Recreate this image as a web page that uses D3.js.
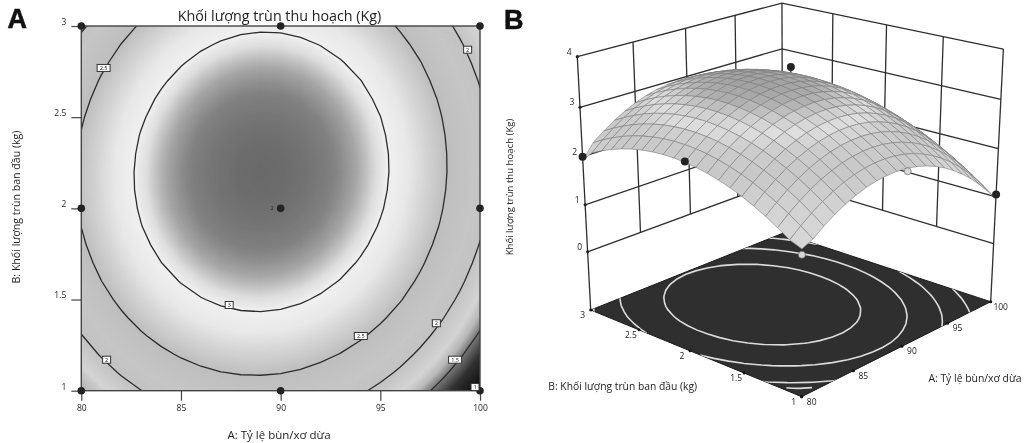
<!DOCTYPE html>
<html>
<head>
<meta charset="utf-8">
<script src="https://cdnjs.cloudflare.com/ajax/libs/d3/7.9.0/d3.min.js"></script>
<style>
  html, body { margin: 0; padding: 0; background: #fff; }
  svg { display: block; filter: blur(0.5px); }
  text { font-family: "Open Sans", sans-serif; fill: #222; }
</style>
</head>
<body>
<svg id="chart" width="1028" height="443"></svg>
<script>
// axis values
const ratioValues = [80, 81, 82, 83, 84, 85, 86, 87, 88, 89, 90, 91, 92, 93, 94, 95, 96, 97, 98, 99, 100];
const wormValues = [1, 1.1, 1.2, 1.3, 1.4, 1.5, 1.6, 1.7, 1.8, 1.9, 2, 2.1, 2.2, 2.3, 2.4, 2.5, 2.6, 2.7, 2.8, 2.9, 3];
const ratioTicks = [80, 85, 90, 95, 100];
const wormTicks = [1, 1.5, 2, 2.5, 3];
const harvestTicks = [0, 1, 2, 3, 4];
const contourLevels = [1.5, 2, 2.5, 3];

// harvest, one row per worm value, one column per ratio value
const harvest = [
  [1.600, 1.701, 1.859, 1.995, 2.109, 2.201, 2.272, 2.320, 2.346, 2.351, 2.334, 2.295, 2.234, 2.150, 2.046, 1.919, 1.771, 1.600, 1.407, 1.193, 0.957],
  [1.692, 1.872, 2.030, 2.168, 2.282, 2.375, 2.446, 2.494, 2.522, 2.527, 2.511, 2.472, 2.411, 2.329, 2.225, 2.099, 1.951, 1.780, 1.589, 1.375, 1.140],
  [1.846, 2.027, 2.186, 2.324, 2.439, 2.532, 2.604, 2.653, 2.681, 2.687, 2.671, 2.633, 2.573, 2.491, 2.388, 2.262, 2.115, 1.945, 1.754, 1.541, 1.306],
  [1.986, 2.167, 2.327, 2.466, 2.581, 2.675, 2.747, 2.797, 2.826, 2.832, 2.817, 2.779, 2.720, 2.639, 2.536, 2.411, 2.264, 2.095, 1.905, 1.692, 1.458],
  [2.110, 2.293, 2.453, 2.592, 2.708, 2.802, 2.876, 2.926, 2.955, 2.962, 2.947, 2.911, 2.852, 2.771, 2.669, 2.544, 2.399, 2.230, 2.040, 1.828, 1.594],
  [2.219, 2.402, 2.563, 2.702, 2.819, 2.914, 2.988, 3.039, 3.068, 3.076, 3.062, 3.026, 2.968, 2.887, 2.786, 2.662, 2.517, 2.349, 2.159, 1.948, 1.715],
  [2.313, 2.496, 2.657, 2.798, 2.915, 3.011, 3.085, 3.136, 3.167, 3.175, 3.162, 3.126, 3.068, 2.989, 2.888, 2.765, 2.620, 2.452, 2.264, 2.053, 1.821],
  [2.391, 2.575, 2.737, 2.878, 2.996, 3.092, 3.167, 3.219, 3.250, 3.259, 3.246, 3.211, 3.154, 3.075, 2.975, 2.852, 2.708, 2.541, 2.353, 2.143, 1.911],
  [2.455, 2.639, 2.802, 2.943, 3.062, 3.159, 3.234, 3.287, 3.318, 3.328, 3.316, 3.281, 3.225, 3.146, 3.047, 2.925, 2.781, 2.615, 2.427, 2.218, 1.987],
  [2.502, 2.687, 2.851, 2.993, 3.112, 3.209, 3.285, 3.339, 3.371, 3.381, 3.369, 3.335, 3.280, 3.202, 3.103, 2.981, 2.838, 2.673, 2.486, 2.277, 2.046],
  [2.535, 2.721, 2.884, 3.027, 3.147, 3.245, 3.322, 3.375, 3.408, 3.419, 3.408, 3.375, 3.319, 3.242, 3.144, 3.023, 2.881, 2.715, 2.529, 2.321, 2.091],
  [2.552, 2.739, 2.903, 3.047, 3.167, 3.265, 3.343, 3.397, 3.431, 3.442, 3.431, 3.399, 3.344, 3.268, 3.170, 3.049, 2.908, 2.743, 2.558, 2.350, 2.120],
  [2.555, 2.742, 2.907, 3.051, 3.172, 3.271, 3.349, 3.404, 3.438, 3.450, 3.440, 3.408, 3.354, 3.278, 3.181, 3.061, 2.920, 2.756, 2.571, 2.364, 2.135],
  [2.542, 2.729, 2.895, 3.039, 3.161, 3.261, 3.339, 3.395, 3.429, 3.442, 3.433, 3.401, 3.348, 3.272, 3.176, 3.057, 2.916, 2.753, 2.568, 2.362, 2.134],
  [2.513, 2.701, 2.868, 3.013, 3.135, 3.235, 3.314, 3.371, 3.406, 3.419, 3.410, 3.379, 3.327, 3.252, 3.156, 3.037, 2.897, 2.735, 2.551, 2.345, 2.117],
  [2.470, 2.659, 2.825, 2.971, 3.094, 3.195, 3.275, 3.331, 3.367, 3.381, 3.373, 3.343, 3.290, 3.216, 3.121, 3.003, 2.864, 2.701, 2.518, 2.313, 2.086],
  [2.411, 2.601, 2.768, 2.915, 3.038, 3.139, 3.220, 3.277, 3.314, 3.328, 3.320, 3.291, 3.239, 3.166, 3.071, 2.953, 2.815, 2.653, 2.471, 2.266, 2.039],
  [2.337, 2.527, 2.695, 2.842, 2.966, 3.068, 3.149, 3.207, 3.244, 3.259, 3.252, 3.223, 3.172, 3.099, 3.005, 2.888, 2.750, 2.589, 2.407, 2.203, 1.977],
  [2.247, 2.438, 2.607, 2.754, 2.879, 2.981, 3.063, 3.122, 3.159, 3.175, 3.168, 3.140, 3.090, 3.017, 2.924, 2.807, 2.670, 2.510, 2.328, 2.125, 1.899],
  [2.143, 2.334, 2.503, 2.652, 2.777, 2.880, 2.962, 3.021, 3.060, 3.076, 3.070, 3.042, 2.992, 2.921, 2.828, 2.712, 2.575, 2.415, 2.235, 2.032, 1.807],
  [1.920, 2.215, 2.385, 2.534, 2.660, 2.764, 2.846, 2.906, 2.945, 2.962, 2.957, 2.929, 2.880, 2.809, 2.717, 2.602, 2.465, 2.306, 2.126, 1.924, 1.700],
];

// design points of the experiment
const designRatio = [80, 90, 100, 80, 90, 100, 80, 90, 100];
const designWorm = [1, 1, 1, 2, 2, 2, 3, 3, 3];

// contour tags in the left panel
const tagText = ["2.5", "2", "3", "2.5", "2", "1.5", "2", "1"];
const tagRatio = [81.12, 99.38, 87.42, 94.02, 97.81, 98.75, 81.27, 99.75];
const tagWorm = [2.77, 2.87, 1.47, 1.3, 1.37, 1.17, 1.17, 1.02];

// points shown around the surface in the right panel
const pointRatio = [90, 80, 80, 100, 90.1, 80];
const pointWorm = [2, 2, 3, 1, 1, 1];
const pointHarvest = [3.72, 2.55, 2.0, 1.05, 2.27, 1.49];
const pointBehind = [true, false, false, false, false, false];
const pointLight = [false, false, false, false, true, true];

// the short arc near the front corner of the floor
const floorArcRatio = [80.28, 80.68, 81.38];
const floorArcWorm = [1.156, 1.098, 1.036];

// shading stops of the filled contour plot
const shadeHarvest = [0.95, 1.3, 1.5, 1.62, 1.75, 2, 2.2, 2.5, 2.7, 2.85, 3, 3.08, 3.2, 3.3, 3.45];
const shadeGrey = [10, 50, 120, 185, 212, 195, 198, 190, 212, 232, 240, 222, 165, 130, 105];
const surfaceHarvest = [0.95, 1.5, 2, 2.5, 2.8, 3, 3.15, 3.3, 3.45];
const surfaceGrey = [190, 215, 212, 200, 205, 222, 205, 175, 160];

const svg = d3.select("#chart");
const grey = (v) => d3.rgb(v, v, v).formatHex();
const shade = d3.scaleLinear().domain(shadeHarvest).range(shadeGrey).clamp(true);
const surfaceShade = d3.scaleLinear().domain(surfaceHarvest).range(surfaceGrey).clamp(true);

// contours on the grid: d3 puts a grid value at index + 0.5
const flat = harvest.flat();
const contour = d3.contours().size([ratioValues.length, wormValues.length]).smooth(true);
const gridToRatio = (c) => d3.scaleLinear().domain([0, ratioValues.length - 1]).range([80, 100])(c - 0.5);
const gridToWorm = (c) => d3.scaleLinear().domain([0, wormValues.length - 1]).range([1, 3])(c - 0.5);

// ---- panel A ----
const xA = d3.scaleLinear().domain([80, 100]).range([81.3, 480]);
const yA = d3.scaleLinear().domain([1, 3]).range([390.7, 26]);
const panelA = svg.append("g");

svg.append("defs").append("clipPath").attr("id", "plot-a")
  .append("rect")
  .attr("x", xA(80)).attr("y", yA(3))
  .attr("width", xA(100) - xA(80)).attr("height", yA(1) - yA(3));

const contourPathA = (geo) => {
  return geo.coordinates.map((poly) => poly.map((ring) =>
    "M" + ring.map((p) => [xA(gridToRatio(p[0])), yA(gridToWorm(p[1]))].join(",")).join("L") + "Z"
  ).join("")).join("");
};

const plotA = panelA.append("g").attr("clip-path", "url(#plot-a)");
const bands = d3.range(0.9, 3.46, 0.005);
plotA.selectAll("path.band")
  .data(contour.thresholds(bands)(flat))
  .join("path")
  .attr("class", "band")
  .attr("d", contourPathA)
  .attr("fill", (d) => grey(shade(d.value)));
plotA.selectAll("path.level")
  .data(contour.thresholds(contourLevels)(flat))
  .join("path")
  .attr("class", "level")
  .attr("d", contourPathA)
  .attr("fill", "none")
  .attr("stroke", "#2c2c2c")
  .attr("stroke-width", 1.3);

panelA.append("rect")
  .attr("x", xA(80)).attr("y", yA(3))
  .attr("width", xA(100) - xA(80)).attr("height", yA(1) - yA(3))
  .attr("fill", "none").attr("stroke", "#444").attr("stroke-width", 1.4);

const axisA = panelA.append("g").attr("transform", `translate(0,${yA(1)})`)
  .call(d3.axisBottom(xA).tickValues(ratioTicks).tickSize(10).tickPadding(4));
const axisB = panelA.append("g").attr("transform", `translate(${xA(80)},0)`)
  .call(d3.axisLeft(yA).tickValues(wormTicks).tickFormat(d3.format("~g")).tickSize(10).tickPadding(5));
axisA.select(".domain").remove();
axisB.select(".domain").remove();
axisA.selectAll("line").attr("stroke", "#444").attr("stroke-width", 1.2);
axisB.selectAll("line").attr("stroke", "#444").attr("stroke-width", 1.2);
axisA.selectAll("text").style("font", '8.5px "Open Sans"');
axisB.selectAll("text").style("font", '8.5px "Open Sans"').attr("dy", "-0.2em");

panelA.selectAll("circle.design")
  .data(designRatio)
  .join("circle")
  .attr("class", "design")
  .attr("cx", (d) => xA(d))
  .attr("cy", (d, i) => yA(designWorm[i]))
  .attr("r", 3.8)
  .attr("fill", "#232323");
panelA.append("text").attr("x", xA(90) - 7).attr("y", yA(2) + 1.5)
  .attr("text-anchor", "end").attr("font-size", 5).text("2");

const tagsA = panelA.selectAll("g.tag")
  .data(tagText)
  .join("g")
  .attr("class", "tag")
  .attr("transform", (d, i) => `translate(${xA(tagRatio[i])},${yA(tagWorm[i])})`);
tagsA.append("rect")
  .attr("x", (d) => (d.length > 1 ? -6.5 : -4))
  .attr("y", -3.5)
  .attr("width", (d) => (d.length > 1 ? 13 : 8))
  .attr("height", 7)
  .attr("fill", "#fff").attr("stroke", "#333").attr("stroke-width", 1);
tagsA.append("text")
  .attr("text-anchor", "middle").attr("y", 2).attr("font-size", 5.5)
  .text((d) => d);

panelA.append("text").attr("x", 279.5).attr("y", 21)
  .attr("text-anchor", "middle").attr("font-size", 14.3).text("Khối lượng trùn thu hoạch (Kg)");
panelA.append("text").attr("x", 279).attr("y", 439)
  .attr("text-anchor", "middle").attr("font-size", 11.5).text("A: Tỷ lệ bùn/xơ dừa");
panelA.append("text").attr("transform", "translate(20,207) rotate(-90)")
  .attr("text-anchor", "middle").attr("font-size", 10.6).text("B: Khối lượng trùn ban đầu (kg)");
panelA.append("text").attr("x", 7.5).attr("y", 28)
  .attr("font-size", 27).attr("font-weight", 700).style("font-family", "Liberation Sans")
  .style("fill", "#111").style("stroke", "#111").style("stroke-width", 0.6).text("A");

// ---- panel B ----
// view of the box: where its floor corners and the leaning of the verticals land on the page
const floorFront = [801.7, 396.7];
const floorRight = [990.7, 301.7];
const floorBack = [782.7, 233.3];
const floorLeft = [590.7, 310];
const topLeftY = 56.7;
const verticalVanish = [795.7, 4186];
const floorHarvest = -1.27;

const uScale = d3.scaleLinear().domain([80, 100]).range([0, 1]);
const vScale = d3.scaleLinear().domain([1, 3]).range([0, 1]);
const wScale = d3.scaleLinear().domain([floorHarvest, 4]).range([0, 1]);

// unit square to floor quad
const dx1 = floorRight[0] - floorBack[0], dx2 = floorLeft[0] - floorBack[0];
const dy1 = floorRight[1] - floorBack[1], dy2 = floorLeft[1] - floorBack[1];
const sx = floorFront[0] - floorRight[0] + floorBack[0] - floorLeft[0];
const sy = floorFront[1] - floorRight[1] + floorBack[1] - floorLeft[1];
const den = dx1 * dy2 - dy1 * dx2;
const g = (sx * dy2 - dx2 * sy) / den;
const h = (dx1 * sy - sx * dy1) / den;
const a = floorRight[0] - floorFront[0] + g * floorRight[0];
const b = floorLeft[0] - floorFront[0] + h * floorLeft[0];
const c = floorFront[0];
const d_ = floorRight[1] - floorFront[1] + g * floorRight[1];
const e = floorLeft[1] - floorFront[1] + h * floorLeft[1];
const f = floorFront[1];
const lean = (1 * h + 1) * (topLeftY - floorLeft[1]) / (verticalVanish[1] - topLeftY);

const project = (ratio, worm, value) => {
  const u = uScale(ratio), v = vScale(worm), w = wScale(value);
  const W = g * u + h * v + 1 + lean * w;
  return [
    (a * u + b * v + c + lean * verticalVanish[0] * w) / W,
    (d_ * u + e * v + f + lean * verticalVanish[1] * w) / W,
  ];
};

const line3d = d3.line();
const panelB = svg.append("g");
const wall = panelB.append("g").attr("fill", "none").attr("stroke", "#2e2e2e").attr("stroke-width", 1.3);

// back walls
harvestTicks.forEach((t) => {
  wall.append("path").attr("d", line3d([project(80, 3, t), project(100, 3, t), project(100, 1, t)]));
});
ratioTicks.slice(1, -1).forEach((t) => {
  wall.append("path").attr("d", line3d([project(t, 3, 0), project(t, 3, 4)]));
});
wormTicks.slice(1, -1).forEach((t) => {
  wall.append("path").attr("d", line3d([project(100, t, 0), project(100, t, 4)]));
});
wall.append("path").attr("d", line3d([project(80, 3, floorHarvest), project(80, 3, 4)]));
wall.append("path").attr("d", line3d([project(100, 3, floorHarvest), project(100, 3, 4)]));
wall.append("path").attr("d", line3d([project(100, 1, floorHarvest), project(100, 1, 4)]));

// floor with its contour lines
const floorRing = [project(80, 1, floorHarvest), project(100, 1, floorHarvest), project(100, 3, floorHarvest), project(80, 3, floorHarvest)];
panelB.append("path").attr("d", line3d(floorRing) + "Z")
  .attr("fill", "#2f2f2f").attr("stroke", "#1c1c1c").attr("stroke-width", 1);
svg.select("defs").append("clipPath").attr("id", "floor-b")
  .append("path").attr("d", line3d(floorRing) + "Z");
const floorLines = panelB.append("g").attr("clip-path", "url(#floor-b)");
floorLines.selectAll("path.level")
  .data(contour.thresholds(contourLevels)(flat))
  .join("path")
  .attr("class", "level")
  .attr("fill", "none").attr("stroke", "#dcdcdc").attr("stroke-width", 1.6)
  .attr("d", (geo) => geo.coordinates.map((poly) => poly.map((ring) =>
    "M" + ring.map((p) => project(gridToRatio(p[0]), gridToWorm(p[1]), floorHarvest).join(",")).join("L") + "Z"
  ).join("")).join(""));
floorLines.append("path")
  .attr("fill", "none").attr("stroke", "#dcdcdc").attr("stroke-width", 1.6)
  .attr("d", d3.line().curve(d3.curveNatural)(floorArcRatio.map((r, i) => project(r, floorArcWorm[i], floorHarvest))));

// ticks on the box
panelB.selectAll("circle.tick-z")
  .data(harvestTicks)
  .join("circle").attr("class", "tick-z")
  .attr("cx", (t) => project(80, 3, t)[0]).attr("cy", (t) => project(80, 3, t)[1])
  .attr("r", 1.6).attr("fill", "#222");
panelB.selectAll("text.label-z")
  .data(harvestTicks)
  .join("text").attr("class", "label-z")
  .attr("x", (t) => project(80, 3, t)[0] - 8).attr("y", (t) => project(80, 3, t)[1] - 2)
  .attr("text-anchor", "middle").attr("font-size", 8.5).text((t) => t);
panelB.selectAll("circle.tick-b")
  .data(wormTicks)
  .join("circle").attr("class", "tick-b")
  .attr("cx", (t) => project(80, t, floorHarvest)[0]).attr("cy", (t) => project(80, t, floorHarvest)[1])
  .attr("r", 1.5).attr("fill", "#111");
panelB.selectAll("text.label-b")
  .data(wormTicks)
  .join("text").attr("class", "label-b")
  .attr("x", (t) => project(80, t, floorHarvest)[0] - 8).attr("y", (t) => project(80, t, floorHarvest)[1] + 8)
  .attr("text-anchor", "middle").attr("font-size", 8.5).text((t) => t);
panelB.selectAll("circle.tick-a")
  .data(ratioTicks)
  .join("circle").attr("class", "tick-a")
  .attr("cx", (t) => project(t, 1, floorHarvest)[0]).attr("cy", (t) => project(t, 1, floorHarvest)[1])
  .attr("r", 1.5).attr("fill", "#111");
panelB.selectAll("text.label-a")
  .data(ratioTicks)
  .join("text").attr("class", "label-a")
  .attr("x", (t) => project(t, 1, floorHarvest)[0] + 10).attr("y", (t) => project(t, 1, floorHarvest)[1] + 8)
  .attr("text-anchor", "middle").attr("font-size", 8.5).text((t) => t);

const drawPoint = (layer, i) => {
  const p = project(pointRatio[i], pointWorm[i], pointHarvest[i]);
  if (pointBehind[i]) {
    // only the point above the surface has a stem showing
    const stemEnd = project(pointRatio[i], pointWorm[i], 3.4);
    layer.append("path").attr("d", line3d([p, stemEnd])).attr("stroke", "#222").attr("stroke-width", 1.2);
  }
  layer.append("circle").attr("cx", p[0]).attr("cy", p[1]).attr("r", pointLight[i] ? 3.5 : 4)
    .attr("fill", pointLight[i] ? "#d8d8d8" : "#232323")
    .attr("stroke", pointLight[i] ? "#666" : "none").attr("stroke-width", 0.7);
};

// points behind the surface
const behind = panelB.append("g");
pointBehind.forEach((isBehind, i) => { if (isBehind) drawPoint(behind, i); });

// surface cells, far corner first
const cells = [];
d3.range(wormValues.length - 1).forEach((j) => {
  d3.range(ratioValues.length - 1).forEach((i) => {
    cells.push({ i, j });
  });
});
cells.sort((p, q) => (q.i + q.j) - (p.i + p.j));
panelB.append("g").selectAll("path")
  .data(cells)
  .join("path")
  .attr("d", ({ i, j }) => line3d([
    project(ratioValues[i], wormValues[j], harvest[j][i]),
    project(ratioValues[i + 1], wormValues[j], harvest[j][i + 1]),
    project(ratioValues[i + 1], wormValues[j + 1], harvest[j + 1][i + 1]),
    project(ratioValues[i], wormValues[j + 1], harvest[j + 1][i]),
  ]) + "Z")
  .attr("fill", ({ i, j }) => grey(surfaceShade((harvest[j][i] + harvest[j][i + 1] + harvest[j + 1][i] + harvest[j + 1][i + 1]) / 4)))
  .attr("stroke", "#7d7d7d")
  .attr("stroke-width", 0.6);

// points in front
const front = panelB.append("g");
pointBehind.forEach((isBehind, i) => { if (!isBehind) drawPoint(front, i); });

panelB.append("text").attr("transform", "translate(513,187) rotate(-90)")
  .attr("text-anchor", "middle").attr("font-size", 9.6).text("Khối lượng trùn thu hoạch (Kg)");
panelB.append("text").attr("x", 622.7).attr("y", 390)
  .attr("text-anchor", "middle").attr("font-size", 10.3).text("B: Khối lượng trùn ban đầu (kg)");
panelB.append("text").attr("x", 975).attr("y", 382)
  .attr("text-anchor", "middle").attr("font-size", 10.4).text("A: Tỷ lệ bùn/xơ dừa");
panelB.append("text").attr("x", 504).attr("y", 29)
  .attr("font-size", 27).attr("font-weight", 700).style("font-family", "Liberation Sans")
  .style("fill", "#111").style("stroke", "#111").style("stroke-width", 0.6).text("B");
</script>
</body>
</html>
